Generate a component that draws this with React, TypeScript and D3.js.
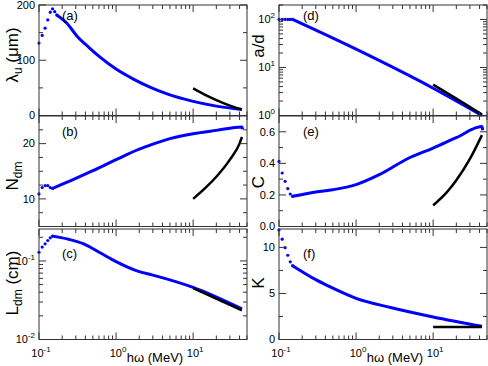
import React from "react";
import * as d3 from "d3";

// blue: full calculation (dots at the low-energy end), black: high-energy estimate
const hwA = [0.1, 0.11, 0.12, 0.13, 0.14, 0.15, 0.16, 0.17, 0.23, 0.31, 0.45, 0.62, 1, 1.7, 2.8, 4.5, 10, 20, 43];
const lambdaU = [131, 145, 158, 173, 187, 193, 188, 182, 167, 144, 122.5, 105.5, 84, 65.5, 51, 39.5, 25.5, 17, 11];
const hwBlackA = [10, 15, 20, 30, 43];
const lambdaUBlack = [49, 36, 28, 18, 11];

const hwB = [0.1, 0.11, 0.12, 0.13, 0.14, 0.15, 0.3, 0.5, 1, 2, 3, 5, 10, 20, 43, 44];
const nDm = [10.9, 12.05, 12.4, 12.4, 12.05, 11.9, 13.7, 15.1, 17.1, 19.0, 19.9, 20.9, 21.8, 22.4, 23.0, 22.6];
const hwBlackB = [10, 15, 20, 30, 40, 43];
const nDmBlack = [10, 12.2, 14.0, 17.1, 20.0, 21.2];

const hwC = [0.1, 0.11, 0.12, 0.13, 0.14, 0.15, 0.23, 0.38, 0.62, 1, 2, 3, 10, 43];
const lDm = [0.129, 0.15, 0.165, 0.182, 0.197, 0.207, 0.191, 0.165, 0.127, 0.098, 0.073, 0.066, 0.046, 0.0245];
const hwBlackC = [10, 43];
const lDmBlack = [0.045, 0.0235];

const hwD = [0.1, 0.11, 0.12, 0.13, 0.14, 0.15, 1, 10, 43];
const aOverD = [100, 100, 100, 100, 100, 100, 24, 3.7, 1.0];
const hwBlackD = [10, 20, 43];
const aOverDBlack = [4.4, 2.25, 1.05];

const hwE = [0.1, 0.11, 0.12, 0.13, 0.14, 0.15, 0.3, 0.5, 1, 2, 5, 10, 20, 43, 44];
const cVals = [0.412, 0.339, 0.286, 0.24, 0.206, 0.191, 0.219, 0.233, 0.265, 0.328, 0.437, 0.497, 0.563, 0.633, 0.61];
const hwBlackE = [10, 15, 20, 30, 43];
const cBlack = [0.134, 0.216, 0.293, 0.428, 0.579];

const hwF = [0.1, 0.11, 0.12, 0.13, 0.14, 0.15, 0.3, 0.5, 1, 2.8, 10, 43];
const kVals = [11.9, 10.9, 9.97, 9.15, 8.43, 8.02, 6.5, 5.57, 4.47, 3.48, 2.45, 1.43];
const hwBlackF = [10, 43];
const kBlack = [1.35, 1.35];

const lambdaTicks = [0, 100, 200];
const nTicks = [10, 20];
const cTicks = [0, 0.2, 0.4, 0.6];
const kTicks = [0, 5, 10];

const FONT = "Liberation Sans, Arial, Helvetica, sans-serif";
const colX = [39, 279];
const rowY = [5, 116, 229];
const plotW = 208;
const plotH = 110.5;
const FRAME = "#333";

const pow10 = (v: number) => Math.abs(Math.log10(v) - Math.round(Math.log10(v))) < 1e-6;
const expLabel = (v: number) => (
  <>
    10<tspan dy={-5} fontSize={8}>{Math.round(Math.log10(v))}</tspan>
  </>
);

function Panel(p: any) {
  const x = d3.scaleLog().domain([0.1, 50]).range([0, plotW]);
  const y = p.y.range([plotH, 0]);
  const xt = x.ticks();
  let yMajor: number[], yMinor: number[];
  if (p.log) {
    const t = y.ticks();
    yMajor = t.filter(pow10);
    yMinor = t.filter((v: number) => !pow10(v));
  } else {
    yMajor = p.major;
    yMinor = p.minor;
  }
  const pts = p.bx.map((v: number, i: number) => [x(v), y(p.by[i])] as [number, number]);
  const line = d3.line().curve(d3.curveMonotoneX);
  const black = p.kx.map((v: number, i: number) => [x(v), y(p.ky[i])] as [number, number]);
  const left = colX[p.col];
  const top = rowY[p.row];
  return (
    <g transform={`translate(${left},${top})`} fontFamily={FONT}>
      <path d={line(pts.slice(p.dots - 1)) || ""} fill="none" stroke="#0000ff" strokeWidth={3} />
      {pts.slice(0, p.dots).map((d: [number, number], i: number) => (
        <circle key={i} cx={d[0]} cy={d[1]} r={1.6} fill="#0000ff" />
      ))}
      <path d={line(black) || ""} fill="none" stroke="#000" strokeWidth={2.5} />
      <rect x={0} y={0} width={plotW} height={plotH} fill="none" stroke={FRAME} strokeWidth={1} />
      {xt.map((v: number, i: number) => {
        const len = pow10(v) ? 7 : 4;
        return (
          <g key={"x" + i} stroke={FRAME}>
            <line x1={x(v)} x2={x(v)} y1={plotH} y2={plotH - len} />
            <line x1={x(v)} x2={x(v)} y1={0} y2={len} />
          </g>
        );
      })}
      {yMajor.concat(yMinor).map((v: number, i: number) => {
        const len = i < yMajor.length ? 7 : 4;
        return (
          <g key={"y" + i} stroke={FRAME}>
            <line x1={0} x2={len} y1={y(v)} y2={y(v)} />
            <line x1={plotW} x2={plotW - len} y1={y(v)} y2={y(v)} />
          </g>
        );
      })}
      {yMajor.map((v: number, i: number) => (
        <text key={"yl" + i} x={-4} y={y(v)} dy="0.35em" textAnchor="end" fontSize={11}>
          {p.log ? expLabel(v) : p.fmt(v)}
        </text>
      ))}
      {p.row === 2 &&
        xt.filter(pow10).map((v: number, i: number) => (
          <text key={"xl" + i} x={x(v) + 2} y={plotH + 17} textAnchor="middle" fontSize={11}>
            {expLabel(v)}
          </text>
        ))}
      {p.row === 2 && (
        <text x={116} y={plotH + 22} textAnchor="middle" fontSize={13}>
          hω (MeV)
        </text>
      )}
      <text x={p.col === 0 ? 23 : 24} y={p.tagY} fontSize={13}>
        {p.tag}
      </text>
      <text
        transform={`translate(${p.col === 0 ? -21 : -15},${p.titleY - top}) rotate(-90)`}
        textAnchor="middle"
        fontSize={17}
      >
        {p.title}
      </text>
    </g>
  );
}

const sub = (main: string, s: string, rest = "") => (
  <>
    {main}
    <tspan dy={4} fontSize={12}>{s}</tspan>
    <tspan dy={-4}>{rest}</tspan>
  </>
);

export default function App() {
  const panels = [
    { col: 0, row: 0, y: d3.scaleLinear().domain([0, 200]), major: lambdaTicks, minor: [50, 150], fmt: (v: number) => String(v),
      bx: hwA, by: lambdaU, dots: 8, kx: hwBlackA, ky: lambdaUBlack, tag: "(a)", tagY: 15, title: sub("λ", "u", " (μm)"), titleY: 55 },
    { col: 0, row: 1, y: d3.scaleLinear().domain([5, 25]), major: nTicks, minor: [7.5, 12.5, 15, 17.5, 22.5], fmt: (v: number) => String(v),
      bx: hwB, by: nDm, dots: 6, kx: hwBlackB, ky: nDmBlack, tag: "(b)", tagY: 20, title: sub("N", "dm"), titleY: 176 },
    { col: 0, row: 2, y: d3.scaleLog().domain([0.01, 0.255]), log: true,
      bx: hwC, by: lDm, dots: 6, kx: hwBlackC, ky: lDmBlack, tag: "(c)", tagY: 29, title: sub("L", "dm", " (cm)"), titleY: 283 },
    { col: 1, row: 0, y: d3.scaleLog().domain([1, 200]), log: true,
      bx: hwD, by: aOverD, dots: 6, kx: hwBlackD, ky: aOverDBlack, tag: "(d)", tagY: 15, title: "a/d", titleY: 46 },
    { col: 1, row: 1, y: d3.scaleLinear().domain([0, 0.7]), major: cTicks, minor: [0.1, 0.3, 0.5], fmt: (v: number) => v.toFixed(1),
      bx: hwE, by: cVals, dots: 6, kx: hwBlackE, ky: cBlack, tag: "(e)", tagY: 20, title: "C", titleY: 182 },
    { col: 1, row: 2, y: d3.scaleLinear().domain([0, 12]), major: kTicks, minor: [2.5, 7.5], fmt: (v: number) => String(v),
      bx: hwF, by: kVals, dots: 6, kx: hwBlackF, ky: kBlack, tag: "(f)", tagY: 29, title: "K", titleY: 283 },
  ];
  return (
    <svg width={488} height={366} style={{ position: "absolute", left: 0, top: 0, background: "#fff" }}>
      {panels.map((p, i) => (
        <Panel key={i} {...p} />
      ))}
    </svg>
  );
}
